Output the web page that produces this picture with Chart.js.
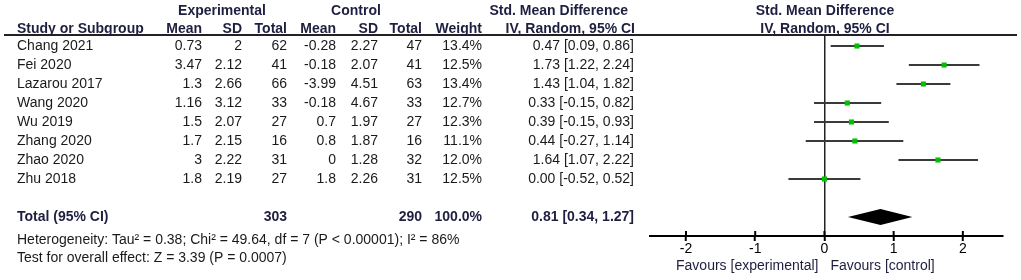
<!DOCTYPE html>
<html>
<head>
<meta charset="utf-8">
<script src="https://cdn.jsdelivr.net/npm/chart.js@4.4.1/dist/chart.umd.min.js"></script>
<style>
  html, body { margin: 0; padding: 0; background: #fff; }
</style>
</head>
<body>
<canvas id="forest" width="1021" height="280"></canvas>
<script>
const studies = ['Chang 2021', 'Fei 2020', 'Lazarou 2017', 'Wang 2020', 'Wu 2019', 'Zhang 2020', 'Zhao 2020', 'Zhu 2018'];
const expMean = [0.73, 3.47, 1.3, 1.16, 1.5, 1.7, 3, 1.8];
const expSD = [2, 2.12, 2.66, 3.12, 2.07, 2.15, 2.22, 2.19];
const expTotal = [62, 41, 66, 33, 27, 16, 31, 27];
const ctlMean = [-0.28, -0.18, -3.99, -0.18, 0.7, 0.8, 0, 1.8];
const ctlSD = [2.27, 2.07, 4.51, 4.67, 1.97, 1.87, 1.28, 2.26];
const ctlTotal = [47, 41, 63, 33, 27, 16, 32, 31];
const weights = ['13.4%', '12.5%', '13.4%', '12.7%', '12.3%', '11.1%', '12.0%', '12.5%'];
const smd = [0.47, 1.73, 1.43, 0.33, 0.39, 0.44, 1.64, 0.00];
const ciLow = [0.09, 1.22, 1.04, -0.15, -0.15, -0.27, 1.07, -0.52];
const ciHigh = [0.86, 2.24, 1.82, 0.82, 0.93, 1.14, 2.22, 0.52];

const totalRow = 9;
const totalExp = 303;
const totalCtl = 290;
const totalWeight = '100.0%';
const totalSmd = 0.81;
const totalLow = 0.34;
const totalHigh = 1.27;

const heterogeneity = 'Heterogeneity: Tau\u00b2 = 0.38; Chi\u00b2 = 49.64, df = 7 (P < 0.00001); I\u00b2 = 86%';
const overallTest = 'Test for overall effect: Z = 3.39 (P = 0.0007)';
const tickVals = [-2, -1, 0, 1, 2];

const FONT = '"Liberation Sans", Arial, sans-serif';
const SIZE = 14;
const HEAD = '#1e1e40';
const TEXT = '#1a1a1a';

const ci = i => smd[i].toFixed(2) + ' [' + ciLow[i].toFixed(2) + ', ' + ciHigh[i].toFixed(2) + ']';

// table text, header rule, diamond, favours labels
const tablePlugin = {
  id: 'table',
  afterDraw(chart) {
    const ctx = chart.ctx;
    const x = chart.scales.x;
    const y = chart.scales.y;
    const area = chart.chartArea;
    ctx.save();

    // header rule
    ctx.strokeStyle = '#222';
    ctx.lineWidth = 2;
    ctx.beginPath();
    ctx.moveTo(4, area.top);
    ctx.lineTo(1017, area.top);
    ctx.stroke();

    const put = (s, px, py, align) => {
      ctx.textAlign = align;
      ctx.fillText(s, px, py);
    };

    ctx.textBaseline = 'middle';
    ctx.fillStyle = HEAD;
    ctx.font = 'bold ' + SIZE + 'px ' + FONT;
    put('Experimental', 222, 11, 'center');
    put('Control', 356, 11, 'center');
    put('Std. Mean Difference', 628, 11, 'right');
    put('Std. Mean Difference', 825, 11, 'center');
    put('Study or Subgroup', 17, 29, 'left');
    put('Mean', 202, 29, 'right');
    put('SD', 242, 29, 'right');
    put('Total', 287, 29, 'right');
    put('Mean', 336, 29, 'right');
    put('SD', 378, 29, 'right');
    put('Total', 422, 29, 'right');
    put('Weight', 482, 29, 'right');
    put('IV, Random, 95% CI', 635, 29, 'right');
    put('IV, Random, 95% CI', 825, 29, 'center');

    ctx.fillStyle = TEXT;
    ctx.font = SIZE + 'px ' + FONT;
    studies.forEach((s, i) => {
      const py = y.getPixelForValue(i);
      put(s, 17, py, 'left');
      put(String(expMean[i]), 202, py, 'right');
      put(String(expSD[i]), 242, py, 'right');
      put(String(expTotal[i]), 287, py, 'right');
      put(String(ctlMean[i]), 336, py, 'right');
      put(String(ctlSD[i]), 378, py, 'right');
      put(String(ctlTotal[i]), 422, py, 'right');
      put(weights[i], 482, py, 'right');
      put(ci(i), 634, py, 'right');
    });

    const ty = y.getPixelForValue(totalRow);
    ctx.fillStyle = HEAD;
    ctx.font = 'bold ' + SIZE + 'px ' + FONT;
    put('Total (95% CI)', 17, ty, 'left');
    put(String(totalExp), 287, ty, 'right');
    put(String(totalCtl), 422, ty, 'right');
    put(totalWeight, 482, ty, 'right');
    put(totalSmd.toFixed(2) + ' [' + totalLow.toFixed(2) + ', ' + totalHigh.toFixed(2) + ']', 634, ty, 'right');

    ctx.fillStyle = TEXT;
    ctx.font = SIZE + 'px ' + FONT;
    put(heterogeneity, 17, 240, 'left');
    put(overallTest, 17, 258, 'left');

    // pooled diamond
    ctx.fillStyle = '#000';
    ctx.beginPath();
    ctx.moveTo(x.getPixelForValue(totalLow), ty);
    ctx.lineTo(x.getPixelForValue(totalSmd), ty - 8);
    ctx.lineTo(x.getPixelForValue(totalHigh), ty);
    ctx.lineTo(x.getPixelForValue(totalSmd), ty + 8);
    ctx.closePath();
    ctx.fill();

    // upper half of tick marks
    ctx.strokeStyle = '#000';
    ctx.lineWidth = 2;
    tickVals.forEach(v => {
      const px = x.getPixelForValue(v);
      ctx.beginPath();
      ctx.moveTo(px, area.bottom);
      ctx.lineTo(px, area.bottom - 5);
      ctx.stroke();
    });

    ctx.fillStyle = HEAD;
    ctx.font = SIZE + 'px ' + FONT;
    const zx = x.getPixelForValue(0);
    put('Favours [experimental]', zx - 6, 266, 'right');
    put('Favours [control]', zx + 6, 266, 'left');
    ctx.restore();
  }
};

const whiskers = studies.map((s, i) => ({
  type: 'line',
  data: [{ x: ciLow[i], y: i }, { x: ciHigh[i], y: i }],
  borderColor: '#3a3a3a',
  borderWidth: 2,
  pointRadius: 0,
  order: 2
}));

new Chart(document.getElementById('forest'), {
  type: 'scatter',
  data: {
    datasets: [
      ...whiskers,
      {
        type: 'scatter',
        data: smd.map((v, i) => ({ x: v, y: i })),
        pointStyle: 'rect',
        pointRadius: 3.6,
        backgroundColor: '#00c000',
        borderWidth: 0,
        order: 1
      }
    ]
  },
  options: {
    responsive: false,
    animation: false,
    layout: { padding: { left: 650, right: 18, top: 35, bottom: 0 } },
    plugins: { legend: { display: false }, tooltip: { enabled: false } },
    scales: {
      x: {
        type: 'linear',
        min: -2.52,
        max: 2.58,
        afterBuildTicks: s => { s.ticks = tickVals.map(v => ({ value: v })); },
        afterFit: s => { s.height = 44; },
        border: { display: true, color: '#000', width: 2 },
        grid: {
          drawOnChartArea: true,
          color: c => (c.tick && c.tick.value === 0 ? '#222' : 'rgba(0,0,0,0)'),
          lineWidth: 1.5,
          tickColor: '#000',
          tickWidth: 2,
          tickLength: 5
        },
        ticks: {
          color: '#000',
          padding: 0,
          font: { family: FONT, size: SIZE },
          callback: v => String(v)
        }
      },
      y: {
        type: 'linear',
        display: false,
        reverse: true,
        min: -0.58,
        max: 10
      }
    }
  },
  plugins: [tablePlugin]
});
</script>
</body>
</html>
